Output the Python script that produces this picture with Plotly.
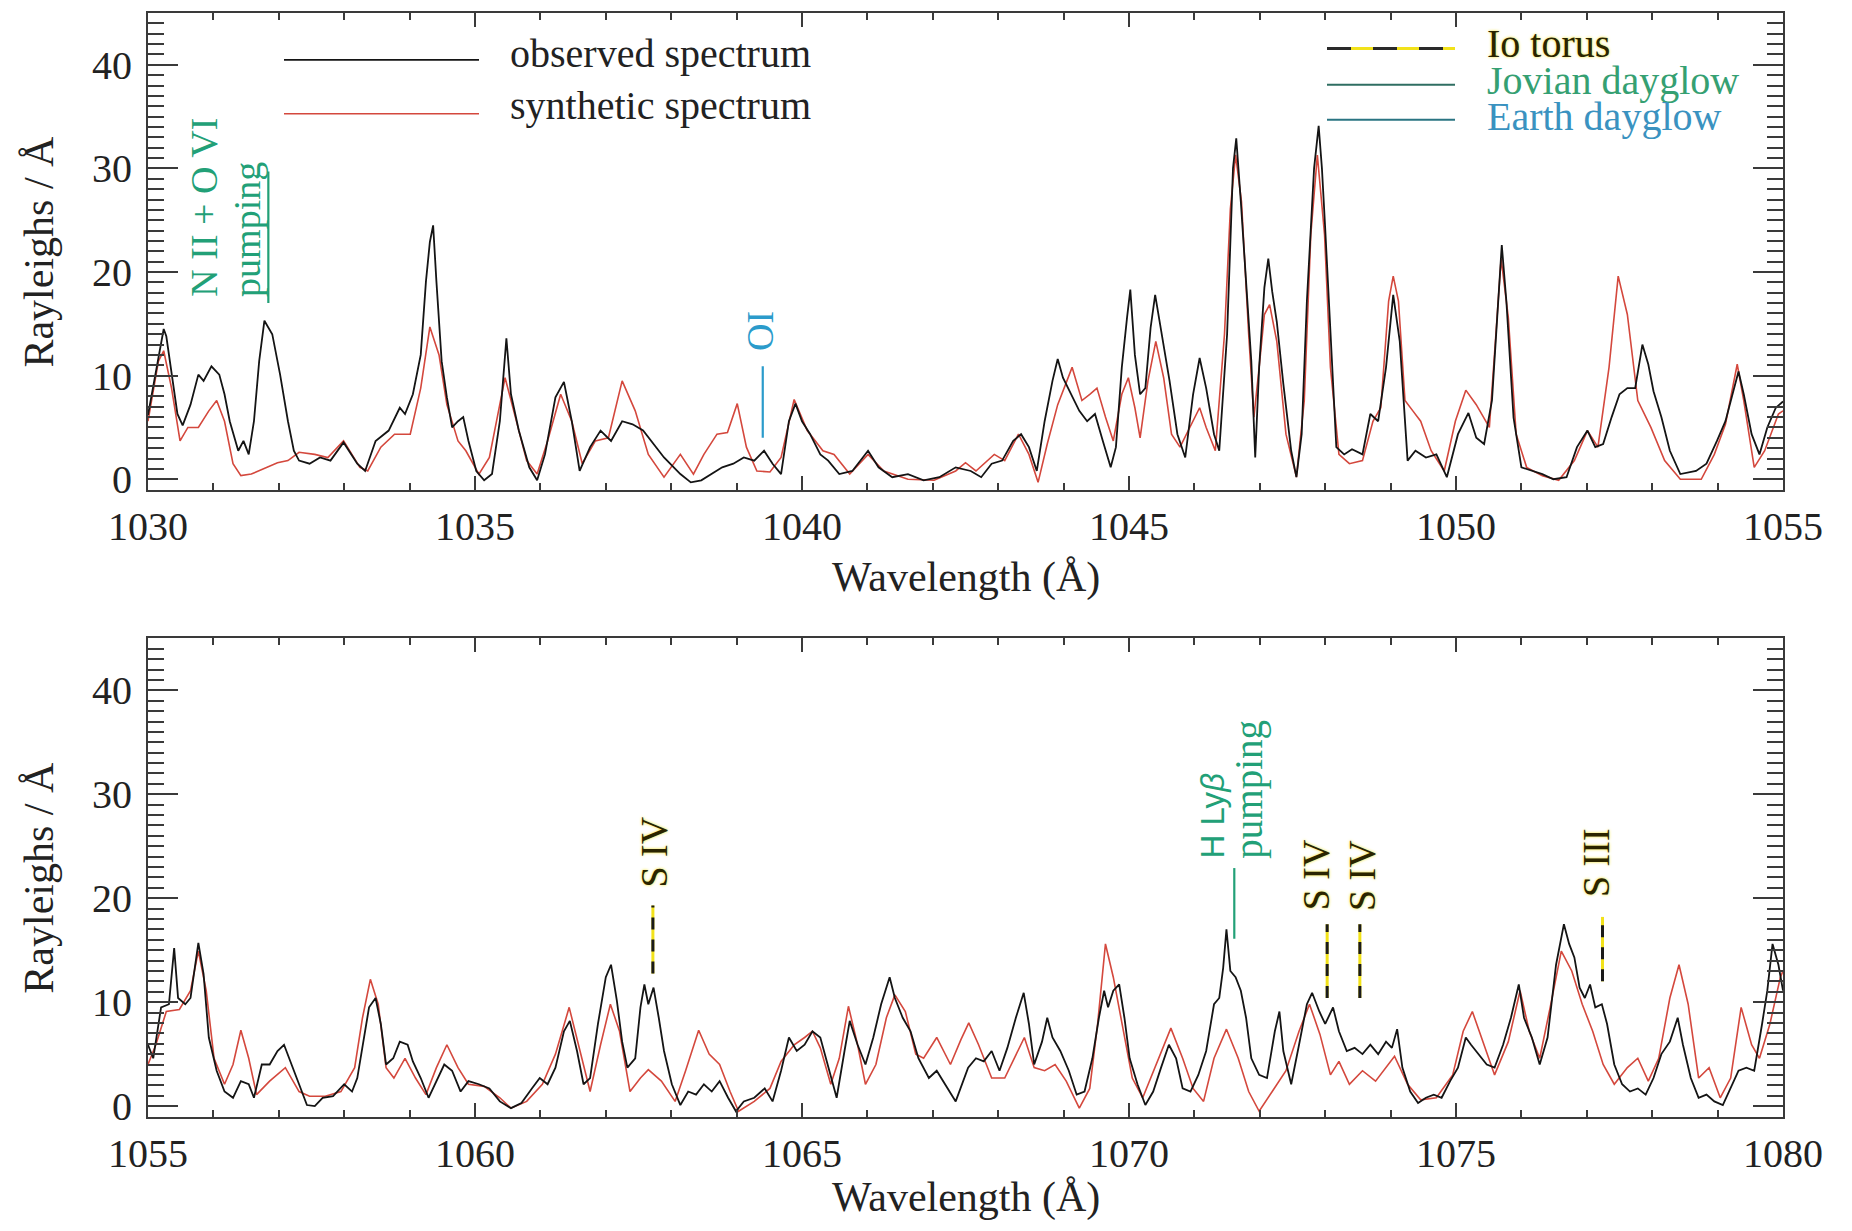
import plotly.graph_objects as go

# ---------------- data ----------------
top_observed = [
    (1030.00, 6.2), (1030.12, 10.5), (1030.20, 13.0), (1030.24, 14.5), (1030.28, 13.8), (1030.32, 12.0),
    (1030.45, 6.3), (1030.53, 5.2), (1030.65, 7.2), (1030.77, 10.1), (1030.85, 9.5), (1030.97, 10.9),
    (1031.09, 10.1), (1031.17, 8.2), (1031.25, 5.6), (1031.38, 2.75), (1031.46, 3.7), (1031.54, 2.4),
    (1031.62, 5.6), (1031.70, 11.4), (1031.78, 15.3), (1031.90, 14.0), (1032.02, 10.1), (1032.14, 5.6),
    (1032.23, 2.75), (1032.31, 1.8), (1032.47, 1.5), (1032.63, 2.1), (1032.79, 1.8), (1032.99, 3.55),
    (1033.20, 1.5), (1033.32, 0.8), (1033.48, 3.7), (1033.68, 4.7), (1033.85, 6.9), (1033.93, 6.3),
    (1034.05, 8.2), (1034.17, 12.0), (1034.25, 19.1), (1034.31, 22.9), (1034.36, 24.5), (1034.41, 19.1),
    (1034.49, 11.4), (1034.57, 7.9), (1034.65, 5.0), (1034.74, 5.6), (1034.82, 6.0), (1034.90, 3.7),
    (1035.02, 0.8), (1035.14, -0.1), (1035.26, 0.5), (1035.38, 5.6), (1035.48, 13.6), (1035.55, 8.2),
    (1035.67, 4.7), (1035.83, 1.15), (1035.95, -0.1), (1036.07, 2.4), (1036.23, 7.9), (1036.36, 9.4),
    (1036.48, 5.6), (1036.60, 0.8), (1036.76, 3.1), (1036.92, 4.7), (1037.08, 3.7), (1037.25, 5.6),
    (1037.41, 5.3), (1037.57, 4.7), (1037.73, 3.4), (1037.89, 2.1), (1038.14, 0.5), (1038.30, -0.3),
    (1038.46, -0.1), (1038.62, 0.5), (1038.78, 1.15), (1038.95, 1.5), (1039.11, 2.1), (1039.27, 1.8),
    (1039.42, 2.75), (1039.55, 1.5), (1039.68, 0.5), (1039.80, 5.6), (1039.90, 7.3), (1040.00, 5.6),
    (1040.12, 4.4), (1040.28, 2.4), (1040.40, 1.8), (1040.57, 0.5), (1040.77, 0.8), (1041.01, 2.75),
    (1041.17, 1.15), (1041.38, 0.2), (1041.62, 0.5), (1041.86, -0.1), (1042.10, 0.2), (1042.35, 1.15),
    (1042.58, 0.8), (1042.74, 0.2), (1042.90, 1.5), (1043.06, 1.8), (1043.23, 3.7), (1043.35, 4.35),
    (1043.47, 3.1), (1043.59, 0.8), (1043.71, 5.6), (1043.83, 9.5), (1043.91, 11.6), (1043.99, 9.8),
    (1044.12, 8.2), (1044.24, 6.6), (1044.36, 5.6), (1044.48, 6.3), (1044.60, 3.7), (1044.72, 1.15),
    (1044.80, 3.1), (1044.89, 10.8), (1044.97, 15.6), (1045.02, 18.3), (1045.09, 12.0), (1045.17, 8.2),
    (1045.25, 8.8), (1045.33, 14.6), (1045.40, 17.8), (1045.49, 14.3), (1045.62, 9.5), (1045.74, 4.35),
    (1045.86, 2.1), (1045.98, 8.2), (1046.08, 11.7), (1046.18, 8.8), (1046.30, 4.35), (1046.38, 2.75),
    (1046.50, 14.0), (1046.59, 30.0), (1046.64, 32.9), (1046.71, 26.8), (1046.79, 18.5), (1046.87, 11.4),
    (1046.93, 2.1), (1046.99, 10.8), (1047.07, 18.5), (1047.13, 21.3), (1047.19, 18.1), (1047.26, 15.2),
    (1047.36, 9.2), (1047.48, 2.75), (1047.56, 0.2), (1047.64, 4.35), (1047.72, 17.2), (1047.83, 30.0),
    (1047.90, 34.1), (1047.95, 30.0), (1048.00, 24.2), (1048.08, 14.0), (1048.17, 3.1), (1048.29, 2.4),
    (1048.41, 2.9), (1048.57, 2.4), (1048.69, 6.3), (1048.81, 5.6), (1048.93, 10.8), (1049.04, 17.8),
    (1049.14, 13.3), (1049.26, 1.8), (1049.38, 2.75), (1049.54, 2.1), (1049.70, 2.4), (1049.86, 0.2),
    (1050.03, 4.35), (1050.19, 6.4), (1050.31, 4.0), (1050.43, 3.4), (1050.55, 7.6), (1050.63, 15.6),
    (1050.70, 22.6), (1050.77, 17.2), (1050.88, 5.95), (1051.00, 1.15), (1051.16, 0.8), (1051.32, 0.5),
    (1051.49, 0.0), (1051.69, 0.2), (1051.85, 3.1), (1052.01, 4.7), (1052.13, 3.1), (1052.25, 3.4),
    (1052.38, 6.0), (1052.50, 8.2), (1052.62, 8.8), (1052.74, 8.8), (1052.85, 13.0), (1052.94, 11.1),
    (1053.02, 8.5), (1053.14, 6.0), (1053.27, 2.75), (1053.43, 0.5), (1053.67, 0.8), (1053.83, 1.5),
    (1053.99, 3.7), (1054.12, 5.6), (1054.24, 8.5), (1054.32, 10.4), (1054.40, 8.2), (1054.52, 4.35),
    (1054.64, 2.4), (1054.76, 5.0), (1054.89, 6.9), (1055.00, 7.5),
]

top_synthetic = [
    (1030.00, 5.6), (1030.16, 11.4), (1030.24, 12.4), (1030.36, 8.8), (1030.49, 3.7), (1030.61, 5.0),
    (1030.77, 5.0), (1030.93, 6.6), (1031.05, 7.6), (1031.17, 5.6), (1031.30, 1.5), (1031.42, 0.35),
    (1031.58, 0.5), (1031.82, 1.15), (1031.98, 1.6), (1032.14, 1.8), (1032.31, 2.6), (1032.55, 2.4),
    (1032.75, 2.1), (1032.99, 3.7), (1033.24, 1.15), (1033.36, 0.8), (1033.56, 3.1), (1033.77, 4.35),
    (1034.01, 4.35), (1034.17, 8.8), (1034.31, 14.7), (1034.45, 12.0), (1034.57, 7.2), (1034.74, 3.7),
    (1034.86, 2.75), (1035.06, 0.5), (1035.22, 2.1), (1035.46, 9.8), (1035.63, 5.6), (1035.79, 1.8),
    (1035.95, 0.5), (1036.11, 3.7), (1036.31, 8.2), (1036.48, 5.6), (1036.64, 1.5), (1036.84, 3.7),
    (1037.04, 4.0), (1037.25, 9.5), (1037.45, 6.6), (1037.65, 2.4), (1037.89, 0.2), (1038.14, 2.4),
    (1038.34, 0.5), (1038.50, 2.4), (1038.70, 4.35), (1038.86, 4.5), (1039.01, 7.3), (1039.15, 3.1),
    (1039.31, 0.8), (1039.51, 0.7), (1039.68, 2.1), (1039.88, 7.7), (1040.08, 4.7), (1040.32, 2.75),
    (1040.49, 2.4), (1040.73, 0.5), (1041.01, 2.4), (1041.25, 0.8), (1041.62, 0.0), (1042.02, -0.1),
    (1042.35, 0.8), (1042.50, 1.6), (1042.66, 0.8), (1042.94, 2.4), (1043.10, 1.8), (1043.31, 4.35),
    (1043.47, 2.4), (1043.61, -0.3), (1043.75, 3.4), (1043.91, 7.2), (1044.13, 10.8), (1044.28, 7.6),
    (1044.40, 8.2), (1044.51, 8.8), (1044.64, 6.0), (1044.76, 3.7), (1044.89, 8.2), (1044.99, 9.8),
    (1045.09, 6.9), (1045.17, 4.0), (1045.29, 9.5), (1045.41, 13.3), (1045.53, 9.8), (1045.65, 4.35),
    (1045.78, 3.1), (1045.98, 5.6), (1046.08, 6.9), (1046.18, 5.0), (1046.32, 2.75), (1046.46, 14.0),
    (1046.55, 26.1), (1046.63, 31.3), (1046.72, 26.8), (1046.83, 14.0), (1046.91, 6.0), (1046.99, 10.8),
    (1047.07, 15.9), (1047.15, 16.85), (1047.26, 13.3), (1047.40, 4.35), (1047.56, 0.2), (1047.68, 7.6),
    (1047.78, 23.6), (1047.88, 31.3), (1047.99, 23.6), (1048.08, 10.8), (1048.21, 2.4), (1048.37, 1.5),
    (1048.57, 1.8), (1048.73, 5.6), (1048.85, 6.9), (1048.97, 17.2), (1049.04, 19.6), (1049.12, 17.2),
    (1049.22, 7.6), (1049.34, 6.6), (1049.46, 5.6), (1049.62, 2.75), (1049.82, 0.8), (1049.99, 5.6),
    (1050.15, 8.6), (1050.31, 7.2), (1050.51, 5.0), (1050.61, 14.0), (1050.69, 21.3), (1050.80, 15.6),
    (1050.92, 4.35), (1051.08, 1.15), (1051.32, 0.35), (1051.57, -0.1), (1051.81, 1.8), (1052.01, 4.7),
    (1052.17, 3.1), (1052.34, 10.8), (1052.48, 19.6), (1052.62, 15.9), (1052.78, 7.6), (1052.98, 5.0),
    (1053.19, 1.8), (1053.43, 0.0), (1053.75, 0.0), (1053.95, 2.4), (1054.12, 5.3), (1054.30, 11.1),
    (1054.40, 7.6), (1054.56, 1.15), (1054.72, 2.75), (1054.93, 6.3), (1055.00, 6.6),
]

bottom_observed = [
    (1055.00, 5.9), (1055.08, 4.6), (1055.20, 9.5), (1055.32, 9.8), (1055.40, 15.2), (1055.46, 10.4),
    (1055.57, 9.8), (1055.65, 10.4), (1055.77, 15.7), (1055.85, 12.7), (1055.93, 6.6), (1056.05, 3.4),
    (1056.17, 1.4), (1056.30, 0.8), (1056.42, 2.4), (1056.54, 2.1), (1056.62, 0.8), (1056.74, 4.0),
    (1056.86, 4.0), (1056.98, 5.3), (1057.08, 5.9), (1057.19, 4.0), (1057.31, 2.1), (1057.43, 0.1),
    (1057.55, 0.0), (1057.67, 0.8), (1057.83, 0.95), (1058.00, 2.1), (1058.12, 1.4), (1058.20, 2.7),
    (1058.28, 5.9), (1058.38, 9.5), (1058.48, 10.4), (1058.56, 7.9), (1058.64, 4.0), (1058.75, 4.6),
    (1058.85, 6.2), (1058.97, 5.9), (1059.05, 4.3), (1059.17, 2.7), (1059.29, 0.8), (1059.41, 2.4),
    (1059.53, 4.0), (1059.65, 3.4), (1059.78, 1.4), (1059.90, 2.4), (1060.06, 2.1), (1060.22, 1.7),
    (1060.38, 0.45), (1060.55, -0.2), (1060.71, 0.3), (1060.87, 1.7), (1060.99, 2.7), (1061.11, 2.1),
    (1061.23, 3.7), (1061.36, 7.2), (1061.45, 8.2), (1061.56, 5.3), (1061.66, 2.1), (1061.76, 2.7),
    (1061.88, 7.9), (1062.00, 12.4), (1062.08, 13.6), (1062.17, 10.1), (1062.25, 6.2), (1062.33, 3.7),
    (1062.45, 4.6), (1062.53, 9.5), (1062.59, 11.7), (1062.65, 9.8), (1062.73, 11.4), (1062.81, 8.5),
    (1062.89, 5.3), (1063.01, 2.1), (1063.14, 0.1), (1063.26, 1.4), (1063.38, 1.1), (1063.50, 2.1),
    (1063.62, 1.4), (1063.74, 2.4), (1063.87, 0.8), (1063.99, -0.5), (1064.11, 0.45), (1064.27, 0.8),
    (1064.43, 1.7), (1064.55, 0.45), (1064.68, 3.4), (1064.80, 6.6), (1064.92, 5.3), (1065.04, 5.9),
    (1065.16, 7.2), (1065.28, 6.6), (1065.40, 3.7), (1065.53, 0.8), (1065.65, 5.3), (1065.73, 8.2),
    (1065.85, 5.9), (1065.97, 4.0), (1066.09, 6.6), (1066.21, 9.8), (1066.34, 12.4), (1066.42, 10.4),
    (1066.54, 8.5), (1066.66, 7.2), (1066.78, 4.6), (1066.94, 2.7), (1067.06, 3.4), (1067.19, 2.1),
    (1067.35, 0.45), (1067.54, 3.7), (1067.66, 4.6), (1067.78, 4.3), (1067.90, 5.3), (1068.02, 3.4),
    (1068.14, 5.6), (1068.27, 8.5), (1068.39, 10.9), (1068.47, 7.9), (1068.55, 4.0), (1068.67, 6.2),
    (1068.75, 8.5), (1068.83, 6.6), (1068.95, 5.3), (1069.08, 3.4), (1069.20, 1.1), (1069.32, 1.4),
    (1069.44, 4.6), (1069.54, 8.5), (1069.62, 11.1), (1069.68, 9.5), (1069.76, 11.1), (1069.85, 11.7),
    (1069.93, 8.5), (1070.01, 4.6), (1070.13, 2.1), (1070.25, 0.1), (1070.37, 1.4), (1070.49, 3.7),
    (1070.61, 5.9), (1070.72, 4.6), (1070.82, 1.7), (1070.94, 1.4), (1071.06, 3.0), (1071.18, 5.3),
    (1071.30, 9.8), (1071.38, 10.4), (1071.44, 13.3), (1071.49, 17.0), (1071.55, 13.0), (1071.63, 12.4),
    (1071.71, 11.1), (1071.79, 8.5), (1071.87, 4.6), (1071.99, 3.0), (1072.11, 2.7), (1072.23, 7.2),
    (1072.30, 9.1), (1072.36, 5.3), (1072.48, 2.1), (1072.60, 5.9), (1072.72, 9.8), (1072.80, 10.9),
    (1072.91, 9.1), (1073.00, 7.9), (1073.12, 9.5), (1073.21, 7.2), (1073.33, 5.3), (1073.45, 5.6),
    (1073.57, 5.0), (1073.69, 5.9), (1073.81, 5.0), (1073.93, 6.2), (1074.02, 5.6), (1074.10, 7.4),
    (1074.18, 3.7), (1074.30, 1.4), (1074.42, 0.3), (1074.54, 0.8), (1074.66, 1.1), (1074.78, 0.8),
    (1074.91, 2.4), (1075.03, 3.7), (1075.15, 6.6), (1075.23, 5.9), (1075.35, 5.0), (1075.47, 4.0),
    (1075.59, 3.7), (1075.72, 5.9), (1075.84, 8.5), (1075.96, 11.7), (1076.04, 8.5), (1076.16, 6.6),
    (1076.28, 4.0), (1076.40, 6.6), (1076.53, 13.6), (1076.65, 17.5), (1076.73, 15.6), (1076.81, 14.3),
    (1076.89, 11.4), (1076.97, 10.4), (1077.05, 11.7), (1077.13, 9.5), (1077.23, 9.8), (1077.31, 7.9),
    (1077.42, 4.0), (1077.54, 2.1), (1077.66, 1.4), (1077.78, 1.7), (1077.90, 1.1), (1078.02, 2.7),
    (1078.14, 5.0), (1078.27, 6.2), (1078.39, 8.5), (1078.47, 5.9), (1078.59, 2.7), (1078.71, 0.8),
    (1078.83, 1.1), (1078.95, 0.45), (1079.08, 0.1), (1079.20, 1.7), (1079.32, 3.4), (1079.44, 3.7),
    (1079.56, 3.4), (1079.68, 7.9), (1079.76, 11.1), (1079.84, 15.6), (1079.93, 13.6), (1080.00, 11.1),
]

bottom_synthetic = [
    (1055.00, 4.0), (1055.12, 5.9), (1055.28, 9.1), (1055.48, 9.3), (1055.65, 11.1), (1055.77, 14.9),
    (1055.89, 11.1), (1056.01, 4.6), (1056.17, 2.1), (1056.30, 4.0), (1056.42, 7.3), (1056.54, 4.6),
    (1056.66, 1.1), (1056.86, 2.4), (1057.10, 3.7), (1057.31, 1.4), (1057.47, 0.95), (1057.71, 0.95),
    (1057.95, 1.4), (1058.16, 3.7), (1058.28, 8.5), (1058.40, 12.2), (1058.52, 9.8), (1058.64, 3.7),
    (1058.76, 2.7), (1058.93, 4.6), (1059.09, 2.7), (1059.25, 1.1), (1059.41, 3.7), (1059.57, 5.9),
    (1059.74, 3.7), (1059.90, 2.1), (1060.14, 1.9), (1060.38, 0.8), (1060.55, -0.2), (1060.79, 0.45),
    (1061.03, 2.1), (1061.23, 5.0), (1061.44, 9.5), (1061.60, 5.3), (1061.76, 1.4), (1061.92, 5.9),
    (1062.07, 9.8), (1062.21, 7.2), (1062.37, 1.4), (1062.53, 2.7), (1062.65, 3.5), (1062.85, 2.4),
    (1063.06, 0.45), (1063.22, 3.4), (1063.42, 7.3), (1063.58, 5.0), (1063.74, 4.0), (1063.90, 1.4),
    (1064.03, -0.5), (1064.27, 0.45), (1064.51, 1.7), (1064.68, 4.3), (1064.88, 5.9), (1065.04, 6.6),
    (1065.16, 7.2), (1065.28, 5.6), (1065.44, 2.1), (1065.57, 4.6), (1065.71, 9.6), (1065.85, 5.9),
    (1065.97, 2.1), (1066.13, 4.0), (1066.29, 8.5), (1066.42, 10.7), (1066.58, 9.1), (1066.74, 5.0),
    (1066.86, 4.6), (1067.06, 6.6), (1067.27, 4.0), (1067.43, 6.4), (1067.55, 8.0), (1067.70, 5.9),
    (1067.90, 2.7), (1068.10, 2.7), (1068.27, 5.0), (1068.40, 6.6), (1068.55, 3.7), (1068.71, 3.4),
    (1068.87, 4.0), (1069.04, 2.4), (1069.24, -0.2), (1069.40, 1.7), (1069.52, 7.9), (1069.64, 15.6),
    (1069.76, 12.4), (1069.89, 7.9), (1070.05, 2.7), (1070.21, 0.8), (1070.41, 4.0), (1070.64, 7.5),
    (1070.82, 4.6), (1070.98, 1.7), (1071.14, 0.45), (1071.30, 4.6), (1071.49, 7.4), (1071.67, 4.6),
    (1071.83, 1.4), (1071.99, -0.5), (1072.19, 1.4), (1072.40, 3.4), (1072.60, 7.2), (1072.76, 9.8),
    (1072.92, 6.9), (1073.08, 3.0), (1073.21, 4.3), (1073.37, 2.1), (1073.57, 3.4), (1073.77, 2.4),
    (1074.06, 4.8), (1074.26, 2.1), (1074.46, 0.6), (1074.70, 0.8), (1074.95, 3.0), (1075.11, 7.2),
    (1075.25, 9.1), (1075.43, 5.9), (1075.59, 3.0), (1075.80, 6.2), (1075.98, 11.1), (1076.12, 7.2),
    (1076.28, 4.6), (1076.44, 9.5), (1076.61, 14.9), (1076.77, 13.0), (1076.93, 9.8), (1077.09, 7.2),
    (1077.25, 4.0), (1077.42, 2.1), (1077.62, 3.7), (1077.78, 4.6), (1077.94, 2.4), (1078.10, 4.6),
    (1078.27, 10.4), (1078.41, 13.6), (1078.55, 9.8), (1078.71, 2.7), (1078.87, 3.7), (1079.04, 0.8),
    (1079.20, 2.7), (1079.36, 9.5), (1079.52, 5.9), (1079.64, 4.6), (1079.80, 7.9), (1079.96, 12.4),
    (1080.00, 13.0),
]

x_ticks_top = [1030, 1035, 1040, 1045, 1050, 1055]
x_ticks_bottom = [1055, 1060, 1065, 1070, 1075, 1080]
y_ticks = [0, 10, 20, 30, 40]

# identification markers: (wavelength, y_low, y_high, kind)
line_marks_top = [
    (1031.84, 17.0, 29.7, "jovian"),
    (1039.40, 4.0, 10.9, "earth"),
]
line_marks_bottom = [
    (1062.72, 12.75, 19.3, "io"),
    (1071.61, 16.1, 22.9, "jovian"),
    (1073.03, 10.4, 17.5, "io"),
    (1073.53, 10.4, 17.5, "io"),
    (1077.24, 12.0, 18.2, "io"),
]
# labels: (wavelength, y of label bottom, text, kind, font size, family)
labels_top = [
    (1030.86, 17.4, "N II + O VI", "jovian", 38, "serif"),
    (1031.52, 17.4, "pumping", "jovian", 38, "serif"),
    (1039.36, 12.2, "OI", "earth", 38, "serif"),
]
labels_bottom = [
    (1062.74, 20.8, "S IV", "io", 38, "serif"),
    (1071.28, 23.6, "H Ly<i>β</i>", "jovian", 33, "sans"),
    (1071.84, 23.6, "pumping", "jovian", 39, "serif"),
    (1072.86, 18.6, "S IV", "io", 38, "serif"),
    (1073.56, 18.6, "S IV", "io", 38, "serif"),
    (1077.13, 19.9, "S III", "io", 38, "serif"),
]

# ---------------- styling ----------------
SERIF = "Liberation Serif, Times New Roman, serif"
SANS = "Liberation Sans, Arial, sans-serif"
AXC = "#3a3a3a"
OBS_C = "#141414"
SYN_C = "#d4483d"
GREEN = "#22a077"
BLUE = "#2b9bcb"
IO_TEXT = "#2a2400"
IO_YEL = "#f2e21a"
IO_SHADOW = "0px 0px 3px #f0e020"
KIND_COLOR = {"jovian": GREEN, "earth": BLUE, "io": IO_TEXT}

fig = go.Figure()

panels = [
    ("x", "y", top_observed, top_synthetic),
    ("x2", "y2", bottom_observed, bottom_synthetic),
]
for xa, ya, obs, syn in panels:
    fig.add_trace(go.Scatter(x=[p[0] for p in syn], y=[p[1] for p in syn], mode="lines",
                             line=dict(color=SYN_C, width=1.6), xaxis=xa, yaxis=ya,
                             showlegend=False, hoverinfo="skip"))
    fig.add_trace(go.Scatter(x=[p[0] for p in obs], y=[p[1] for p in obs], mode="lines",
                             line=dict(color=OBS_C, width=1.8), xaxis=xa, yaxis=ya,
                             showlegend=False, hoverinfo="skip"))

# screen geometry (page body has an 8px margin)
BODY = 8
SCREEN_W, SCREEN_H = 1852, 1231
W = SCREEN_W - 2 * BODY
H = SCREEN_H - 2 * BODY
PLOT_L, PLOT_R = 148, 1783
TOP_T, TOP_B = 11, 489
BOT_T, BOT_B = 637.5, 1117
plot_h = BOT_B - TOP_T

def yfrac(py):
    return (BOT_B - py) / plot_h

common_x = dict(showline=True, linecolor=AXC, linewidth=2, mirror="allticks",
                ticks="inside", ticklen=14, tickwidth=2, tickcolor=AXC,
                showgrid=False, zeroline=False,
                tickfont=dict(family=SERIF, size=40, color="#222"),
                ticklabelstandoff=0,
                minor=dict(ticks="inside", dtick=1, ticklen=7, tickwidth=1.5, tickcolor=AXC, showgrid=False))
common_y = dict(showline=True, linecolor=AXC, linewidth=2, mirror="allticks",
                ticks="inside", ticklen=30, tickwidth=2, tickcolor=AXC,
                showgrid=False, zeroline=False, range=[-1.05, 45],
                tickvals=y_ticks, ticktext=[str(v) for v in y_ticks],
                tickfont=dict(family=SERIF, size=40, color="#222"),
                ticklabelstandoff=6,
                minor=dict(ticks="inside", dtick=1, ticklen=16, tickwidth=1.5, tickcolor=AXC, showgrid=False))

fig.update_layout(
    width=W, height=H,
    margin=dict(l=PLOT_L - BODY, r=(BODY + W) - PLOT_R, t=TOP_T - BODY, b=(BODY + H) - BOT_B, pad=0),
    paper_bgcolor="white", plot_bgcolor="white",
    showlegend=False,
    xaxis=dict(common_x, domain=[0, 1], anchor="y", range=[1030, 1055],
               tickvals=x_ticks_top, ticktext=[str(v) for v in x_ticks_top]),
    yaxis=dict(common_y, domain=[yfrac(TOP_B), 1], anchor="x"),
    xaxis2=dict(common_x, domain=[0, 1], anchor="y2", range=[1055, 1080],
                tickvals=x_ticks_bottom, ticktext=[str(v) for v in x_ticks_bottom]),
    yaxis2=dict(common_y, domain=[0, yfrac(BOT_T)], anchor="x2"),
)

shapes = []
annotations = []

def marker_shapes(xref, yref, x, y0, y1, kind):
    if kind == "io":
        shapes.append(dict(type="line", xref=xref, yref=yref, x0=x, x1=x, y0=y0, y1=y1,
                           line=dict(color=IO_YEL, width=3)))
        shapes.append(dict(type="line", xref=xref, yref=yref, x0=x, x1=x, y0=y0, y1=y1,
                           line=dict(color="#1a1a1a", width=3, dash="12px,10px")))
    else:
        shapes.append(dict(type="line", xref=xref, yref=yref, x0=x, x1=x, y0=y0, y1=y1,
                           line=dict(color=KIND_COLOR[kind], width=2.2)))

for x, y0, y1, kind in line_marks_top:
    marker_shapes("x", "y", x, y0, y1, kind)
for x, y0, y1, kind in line_marks_bottom:
    marker_shapes("x2", "y2", x, y0, y1, kind)

def add_labels(labels, xref, yref):
    for x, yb, txt, kind, size, fam in labels:
        font = dict(family=SERIF if fam == "serif" else SANS, size=size, color=KIND_COLOR[kind])
        if kind == "io":
            font["shadow"] = IO_SHADOW
        annotations.append(dict(x=x, y=yb, xref=xref, yref=yref, text=txt, textangle=-90,
                                showarrow=False, xanchor="center", yanchor="bottom", font=font))

add_labels(labels_top, "x", "y")
add_labels(labels_bottom, "x2", "y2")

# ---------- legends (top panel, domain coords) ----------
def legend_line(x0, x1, y, color, width=2, dash=None):
    d = dict(type="line", xref="x domain", yref="y domain", x0=x0, x1=x1, y0=y, y1=y,
             line=dict(color=color, width=width))
    if dash:
        d["line"]["dash"] = dash
    shapes.append(d)

def dom_x(px):
    return (px - PLOT_L) / (PLOT_R - PLOT_L)

def dom_y(py):
    return (TOP_B - py) / (TOP_B - TOP_T)

legend_line(dom_x(284), dom_x(479), dom_y(58), OBS_C, 1.6)
legend_line(dom_x(284), dom_x(479), dom_y(112), SYN_C, 1.6)
annotations.append(dict(x=dom_x(508), y=dom_y(52), xref="x domain", yref="y domain",
                        text="observed spectrum", showarrow=False, xanchor="left", yanchor="middle",
                        font=dict(family=SERIF, size=40, color="#222")))
annotations.append(dict(x=dom_x(508), y=dom_y(104), xref="x domain", yref="y domain",
                        text="synthetic spectrum", showarrow=False, xanchor="left", yanchor="middle",
                        font=dict(family=SERIF, size=40, color="#222")))

legend_line(dom_x(1327), dom_x(1455), dom_y(46.5), IO_YEL, 3)
legend_line(dom_x(1327), dom_x(1455), dom_y(46.5), "#2a2a2a", 3, "24px,22px")
legend_line(dom_x(1327), dom_x(1455), dom_y(83), "#2f6e62", 2)
legend_line(dom_x(1327), dom_x(1455), dom_y(118), "#2a7482", 2)
annotations.append(dict(x=dom_x(1485), y=dom_y(42), xref="x domain", yref="y domain",
                        text="Io torus", showarrow=False, xanchor="left", yanchor="middle",
                        font=dict(family=SERIF, size=40, color=IO_TEXT, shadow=IO_SHADOW)))
annotations.append(dict(x=dom_x(1485), y=dom_y(79), xref="x domain", yref="y domain",
                        text="Jovian dayglow", showarrow=False, xanchor="left", yanchor="middle",
                        font=dict(family=SERIF, size=40, color="#35a072")))
annotations.append(dict(x=dom_x(1485), y=dom_y(115), xref="x domain", yref="y domain",
                        text="Earth dayglow", showarrow=False, xanchor="left", yanchor="middle",
                        font=dict(family=SERIF, size=40, color="#3a92c0")))

# ---------- axis titles ----------
for xr, yr, ytop, ybot, off in [("x domain", "y domain", TOP_T, TOP_B, 88),
                                 ("x2 domain", "y2 domain", BOT_T, BOT_B, 81)]:
    hgt = ybot - ytop
    annotations.append(dict(x=(39 - PLOT_L) / (PLOT_R - PLOT_L), y=0.5, xref=xr, yref=yr,
                            text="Rayleighs / Å", textangle=-90, showarrow=False,
                            xanchor="center", yanchor="middle",
                            font=dict(family=SERIF, size=42, color="#222")))
    annotations.append(dict(x=0.5, y=-(off / hgt), xref=xr, yref=yr,
                            text="Wavelength (Å)", showarrow=False,
                            xanchor="center", yanchor="middle",
                            font=dict(family=SERIF, size=42, color="#222")))

fig.update_layout(shapes=shapes, annotations=annotations)

fig.write_html("out.html")
